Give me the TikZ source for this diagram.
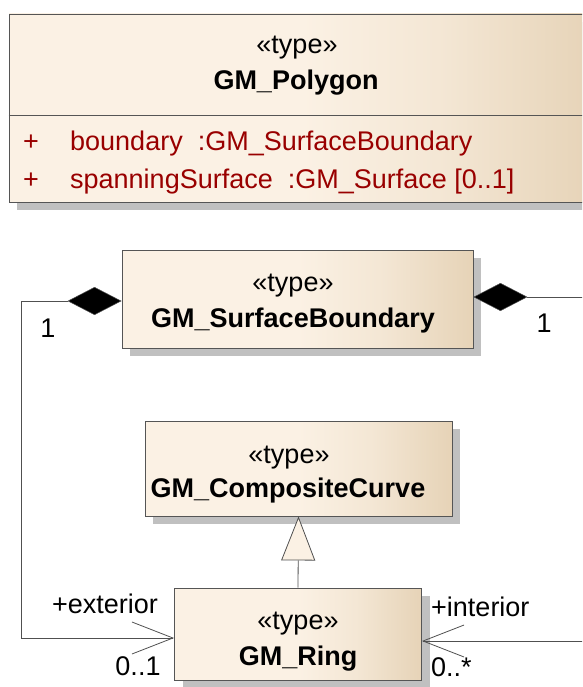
\documentclass[tikz,border=0pt]{standalone}
\usepackage{fontspec}
\setmainfont{Liberation Sans}
\usetikzlibrary{arrows.meta,shadows}

\definecolor{boxlight}{HTML}{FBF1E4}
\definecolor{boxdark}{HTML}{E6D3B7}
\colorlet{boxmid}{boxlight!65!boxdark}
\definecolor{attrred}{HTML}{990000}
\definecolor{edgegray}{HTML}{555555}
\definecolor{linegray}{HTML}{505050}
\definecolor{shadowgray}{HTML}{C0C0C0}

% cream-to-tan fill used by every classifier box
\pgfdeclarehorizontalshading{umlfill}{100bp}{%
  color(0bp)=(boxlight); color(25bp)=(boxlight); color(50bp)=(boxlight);
  color(62bp)=(boxmid); color(75bp)=(boxdark); color(100bp)=(boxdark)}

\tikzset{
  umlbox/.style={draw=edgegray, line width=0.9pt, shading=umlfill, inner sep=0pt,
    drop shadow={shadow xshift=8pt, shadow yshift=-8pt, fill=shadowgray, opacity=1}},
  txt/.style={font=\fontsize{27}{31}\selectfont, inner sep=0pt, text height=19pt, text depth=5pt},
  clsname/.style={txt, font=\fontsize{27}{31}\selectfont\bfseries},
  attrtxt/.style={txt, text=attrred, anchor=west},
  assoc/.style={draw=linegray, line width=0.8pt,
    {Diamond[length=54pt,width=28pt,fill=black,line width=0.5pt]}-{Straight Barb[length=41pt,width=32pt,line width=0.8pt]}},
  genline/.style={draw=linegray, line width=0.8pt,
    -{Triangle[length=44pt,width=34pt,fill=boxlight,line width=0.8pt]}},
}

\begin{document}
\begin{tikzpicture}[x=1pt,y=-1pt]
\useasboundingbox (0,0) rectangle (582,687);
\begin{scope}
\clip (0,0) rectangle (582,687);

% GM_Polygon with its attribute compartment
\node[umlbox, minimum width=586pt, minimum height=188pt] (poly) at (302,108) {};
\draw[edgegray, line width=0.9pt] (poly.west |- 0,115) -- (poly.east |- 0,115);
\node[txt] (polyst) at (297,47) {«type»};
\node[clsname] (polynm) at (296,83) {GM\_Polygon};
\node[txt, text=attrred] (p1) at (31,143) {+};
\node[attrtxt] (a1) at (70,143) {boundary\ \ :GM\_SurfaceBoundary};
\node[txt, text=attrred] (p2) at (31,181) {+};
\node[attrtxt] (a2) at (70,181) {spanningSurface\ \ :GM\_Surface [0..1]};

% GM_SurfaceBoundary
\node[umlbox, minimum width=351pt, minimum height=98pt] (sb) at (297.5,299) {};
\node[txt] (sbst) at (293,284) {«type»};
\node[clsname] (sbnm) at (293,320) {GM\_SurfaceBoundary};

% GM_CompositeCurve
\node[umlbox, minimum width=307pt, minimum height=95pt] (cc) at (298.5,468.5) {};
\node[txt] (ccst) at (289,456) {«type»};
\node[clsname] (ccnm) at (288,490) {GM\_CompositeCurve};

% GM_Ring
\node[umlbox, minimum width=247pt, minimum height=92pt] (ring) at (298,634) {};
\node[txt] (rgst) at (298,622) {«type»};
\node[clsname] (rgnm) at (298,658) {GM\_Ring};

% generalization GM_Ring -> GM_CompositeCurve
\draw[genline] (ring.north) -- (cc.south);

% composition: exterior ring
\draw[assoc] ([yshift=-2pt]sb.west) -- (21,301) |- ([yshift=-4pt]ring.west);
% composition: interior rings
\draw[assoc] ([yshift=2pt]sb.east) -- (620,297) |- ([yshift=-7pt]ring.east);

% role names and multiplicities
\node[txt] (m1) at (48,330) {1};
\node[txt] (m2) at (544,325) {1};
\node[txt] (ext) at (105,606) {+exterior};
\node[txt] (extm) at (138,668) {0..1};
\node[txt, anchor=west] (int) at (431,609) {+interior};
\node[txt, anchor=west] (intm) at (431,669) {0..*};
\end{scope}
\end{tikzpicture}
\end{document}
